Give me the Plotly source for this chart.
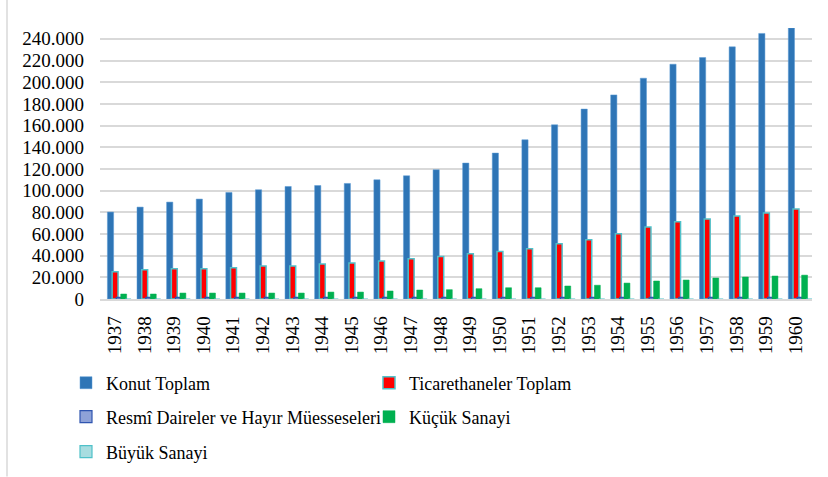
import plotly.graph_objects as go

years = [str(y) for y in range(1937, 1961)]
konut = [80200, 84800, 89400, 92200, 98300, 100800, 103800, 104700, 106600, 110000,
         113700, 119200, 125400, 134600, 146900, 160700, 175200, 188300, 203700, 216600,
         222700, 232600, 245000, 250000]
ticaret = [25200, 27000, 27900, 27900, 28900, 30500, 30400, 32300, 33200, 35000,
           37200, 39300, 41800, 43900, 46400, 51000, 54700, 60200, 66400, 71300,
           73700, 76500, 79300, 83000]
resmi = [1500] * 24
kucuk = [4600, 4600, 5500, 5500, 5500, 5500, 5500, 6400, 6400, 7400,
         8300, 8600, 9500, 10400, 10400, 12000, 12700, 14700, 16600, 17500,
         19400, 20300, 21200, 22000]
buyuk = [0] * 24

ytickvals = [0, 20000, 40000, 60000, 80000, 100000, 120000, 140000, 160000, 180000, 200000, 220000, 240000]
yticktext = ["0", "20.000", "40.000", "60.000", "80.000", "100.000", "120.000", "140.000",
             "160.000", "180.000", "200.000", "220.000", "240.000"]

FONT = "Times New Roman, Liberation Serif, DejaVu Serif, serif"

fig = go.Figure()
fig.add_trace(go.Bar(x=years, y=konut, name="Konut Toplam", offset=-0.25, width=0.21,
                     marker=dict(color="#2E75B6", line=dict(color="#5B9BD5", width=0.5)),
                     legend="legend"))
fig.add_trace(go.Bar(x=years, y=ticaret, name="Ticarethaneler Toplam", offset=-0.09, width=0.2,
                     marker=dict(color="#FF0000", line=dict(color="#4FC1C9", width=1.5)),
                     legend="legend"))
fig.add_trace(go.Bar(x=years, y=resmi, name="Resmî Daireler ve Hayır Müesseseleri", offset=0.05, width=0.2,
                     marker=dict(color="#8EA2D8", line=dict(color="#2F55B0", width=1.2)),
                     legend="legend2"))
fig.add_trace(go.Bar(x=years, y=kucuk, name="Küçük Sanayi", offset=0.2, width=0.2,
                     marker=dict(color="#00B050", line=dict(color="#00B050", width=0.5)),
                     legend="legend2"))
fig.add_trace(go.Bar(x=years, y=buyuk, name="Büyük Sanayi", offset=0.35, width=0.2,
                     marker=dict(color="#A8DDE0", line=dict(color="#4FC1C9", width=1.2)),
                     legend="legend3"))

leg_common = dict(orientation="h", xref="container", yref="container", x=66 / 828,
                  xanchor="left", yanchor="middle", entrywidth=258,
                  font=dict(family=FONT, size=18, color="#000000"),
                  bgcolor="rgba(0,0,0,0)", borderwidth=0)

fig.update_layout(
    width=828, height=477,
    margin=dict(l=100, r=16, t=28, b=178, autoexpand=False),
    barmode="overlay",
    plot_bgcolor="white", paper_bgcolor="white",
    font=dict(family=FONT, size=18, color="#000000"),
    showlegend=True,
    legend=dict(leg_common, y=1 - 383 / 477),
    legend2=dict(leg_common, y=1 - 417 / 477),
    legend3=dict(leg_common, y=1 - 452 / 477),
    xaxis=dict(type="category", tickangle=-90, showgrid=False, ticks="", automargin=False,
               showline=True, linecolor="#D9D9D9", linewidth=1.5,
               ticklabelstandoff=8, tickfont=dict(family=FONT, size=19, color="#000000")),
    yaxis=dict(range=[0, 250000], tickvals=ytickvals, ticktext=yticktext, automargin=False,
               showgrid=True, gridcolor="#D9D9D9", gridwidth=1.5, zeroline=False,
               ticks="", ticklabelstandoff=15, showline=False,
               tickfont=dict(family=FONT, size=19, color="#000000")),
    shapes=[dict(type="line", xref="paper", yref="paper",
                 x0=(7 - 100) / 712, x1=(7 - 100) / 712,
                 y0=(299.3 - 0) / 271.3, y1=(299.3 - 477) / 271.3,
                 line=dict(color="#D9D9D9", width=1.5))],
)

fig.write_html("out.html", config={"displayModeBar": False},
               post_script="document.body.style.margin='0px';document.body.style.overflow='hidden';")
